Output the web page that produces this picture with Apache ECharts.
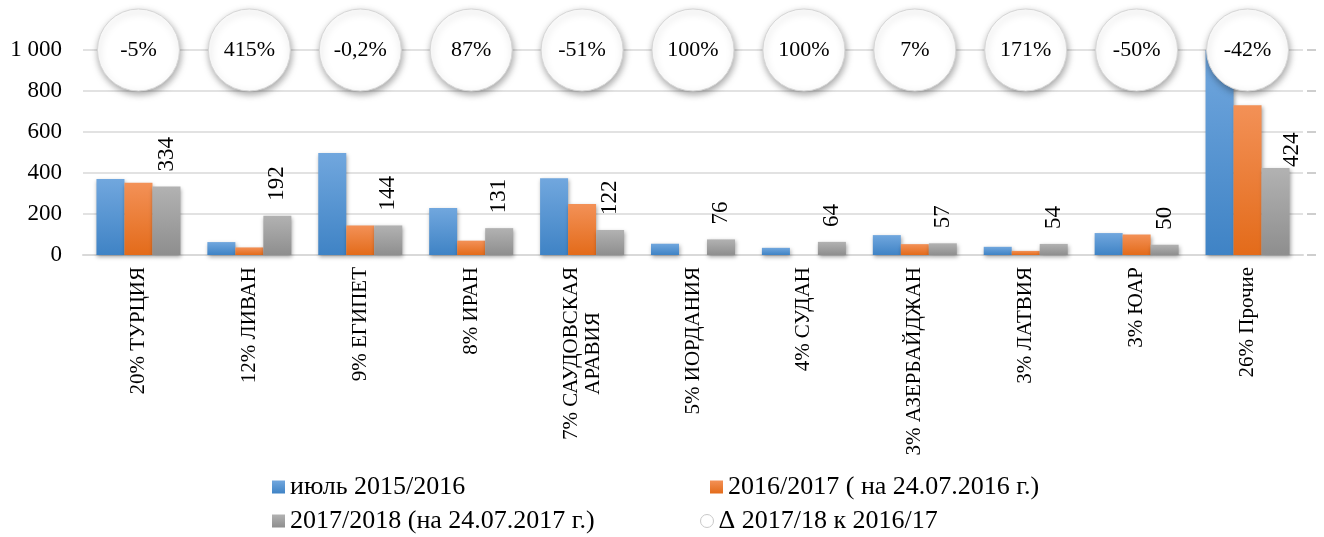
<!DOCTYPE html>
<html>
<head>
<meta charset="utf-8">
<title>chart</title>
<script src="https://cdn.jsdelivr.net/npm/echarts@6/dist/echarts.min.js"></script>
<style>
  html, body { margin: 0; padding: 0; background: #fff; }
  #chart { width: 1324px; height: 537px; }
</style>
</head>
<body>
<div id="chart"></div>
<script>
const categories = ['20% ТУРЦИЯ', '12% ЛИВАН', '9% ЕГИПЕТ', '8% ИРАН', '7% САУДОВСКАЯ\nАРАВИЯ',
  '5% ИОРДАНИЯ', '4% СУДАН', '3% АЗЕРБАЙДЖАН', '3% ЛАТВИЯ', '3% ЮАР', '26% Прочие'];
const season1 = [371, 63, 497, 229, 375, 55, 35, 97, 40, 107, 1250];
const season2 = [352, 37, 144, 70, 249, null, null, 53, 20, 100, 731];
const season3 = [334, 192, 144, 131, 122, 76, 64, 57, 54, 50, 424];
const deltaLabels = ['-5%', '415%', '-0,2%', '87%', '-51%', '100%', '100%', '7%', '171%', '-50%', '-42%'];
const seriesNames = ['июль 2015/2016', '2016/2017 ( на 24.07.2016 г.)', '2017/2018 (на 24.07.2017 г.)', 'Δ 2017/18 к 2016/17'];
const leftTicks = { min: 0, max: 1000, interval: 200 };
const rightTicks = { min: 0, max: 5, interval: 1 };

const font = '"Liberation Serif", "Times New Roman", serif';
const grad = (a, b) => new echarts.graphic.LinearGradient(0, 0, 0, 1, [
  { offset: 0, color: a }, { offset: 1, color: b }
]);
const barShadow = {
  shadowBlur: 4, shadowColor: 'rgba(0,0,0,0.35)', shadowOffsetX: 1, shadowOffsetY: 2
};

// width of the widest line in two-line category names, so that lines can be centred
const ctx = document.createElement('canvas').getContext('2d');
ctx.font = '21px "Liberation Serif"';
const multiW = Math.ceil(Math.max(0, ...categories.filter(c => c.includes('\n'))
  .flatMap(c => c.split('\n')).map(s => ctx.measureText(s).width)));

const chart = echarts.init(document.getElementById('chart'));

function legendAt(name, left, top, icon, itemStyle) {
  return {
    data: [{ name: name, icon: icon, itemStyle: itemStyle }],
    left: left, top: top, padding: 0,
    itemWidth: 13, itemHeight: 13,
    textStyle: { fontFamily: font, fontSize: 26, color: '#000' },
    selectedMode: false
  };
}

chart.setOption({
  animation: false,
  grid: { left: 83, right: 21, top: 50, bottom: 282 },
  legend: [
    legendAt(seriesNames[0], 272, 474, 'rect'),
    legendAt(seriesNames[1], 710, 474, 'rect'),
    legendAt(seriesNames[2], 272, 508, 'rect'),
    legendAt(seriesNames[3], 700, 508, 'circle', { color: '#fff', borderColor: '#c8c8c8', borderWidth: 1 })
  ],
  xAxis: {
    type: 'category',
    data: categories,
    axisLine: { lineStyle: { color: '#d9d9d9', width: 2 } },
    axisTick: { show: false },
    axisLabel: {
      interval: 0,
      rotate: 90,
      margin: 12,
      color: '#000',
      fontFamily: font,
      fontSize: 21,
      lineHeight: 22,
      formatter: v => v.includes('\n') ? v.split('\n').map(s => '{m|' + s + '}').join('\n') : v,
      rich: {
        m: { width: multiW, align: 'center', fontFamily: font, fontSize: 21, color: '#000', lineHeight: 22 }
      }
    }
  },
  yAxis: [{
    type: 'value',
    min: leftTicks.min, max: leftTicks.max, interval: leftTicks.interval,
    axisLine: { show: false },
    axisTick: { show: false },
    splitLine: { lineStyle: { color: '#d9d9d9', width: 1.5 } },
    axisLabel: {
      margin: 21,
      color: '#000',
      fontFamily: font,
      fontSize: 23,
      formatter: v => String(v).replace(/\B(?=(\d{3})+(?!\d))/g, ' ')
    }
  }, {
    type: 'value',
    min: rightTicks.min, max: rightTicks.max, interval: rightTicks.interval,
    offset: 4,
    axisLine: { show: false },
    axisTick: { show: true, length: 9, lineStyle: { color: '#bfbfbf', width: 1.5 } },
    axisLabel: { show: false },
    splitLine: { show: false }
  }],
  series: [{
    name: seriesNames[0],
    type: 'bar',
    data: season1,
    barWidth: 28,
    barGap: '0%',
    itemStyle: Object.assign({ color: grad('#71a7de', '#3f83c5') }, barShadow)
  }, {
    name: seriesNames[1],
    type: 'bar',
    data: season2,
    barWidth: 28,
    barGap: '0%',
    itemStyle: Object.assign({ color: grad('#f39157', '#e36b1a') }, barShadow)
  }, {
    name: seriesNames[2],
    type: 'bar',
    // the last label sits right next to its bar in the original
    data: season3.map((v, i) => i === season3.length - 1
      ? { value: v, label: { distance: 1, offset: [0, 16] } }
      : v),
    barWidth: 28,
    barGap: '0%',
    itemStyle: Object.assign({ color: grad('#b2b2b2', '#8e8e8e') }, barShadow),
    label: {
      show: true,
      position: 'top',
      rotate: 90,
      align: 'left',
      verticalAlign: 'middle',
      distance: 15,
      color: '#000',
      fontFamily: font,
      fontSize: 23
    }
  }, {
    name: seriesNames[3],
    type: 'scatter',
    yAxisIndex: 1,
    clip: false,
    z: 5,
    symbolSize: 82,
    data: deltaLabels.map((d, i) => [i, rightTicks.max]),
    itemStyle: {
      opacity: 1,
      color: '#fff', borderColor: '#d6d6d6', borderWidth: 1,
      shadowBlur: 7, shadowColor: 'rgba(0,0,0,0.35)', shadowOffsetX: 1, shadowOffsetY: 3
    },
    label: {
      show: true,
      position: 'inside',
      formatter: p => deltaLabels[p.dataIndex],
      color: '#000',
      fontFamily: font,
      fontSize: 22
    }
  }]
});
</script>
</body>
</html>
